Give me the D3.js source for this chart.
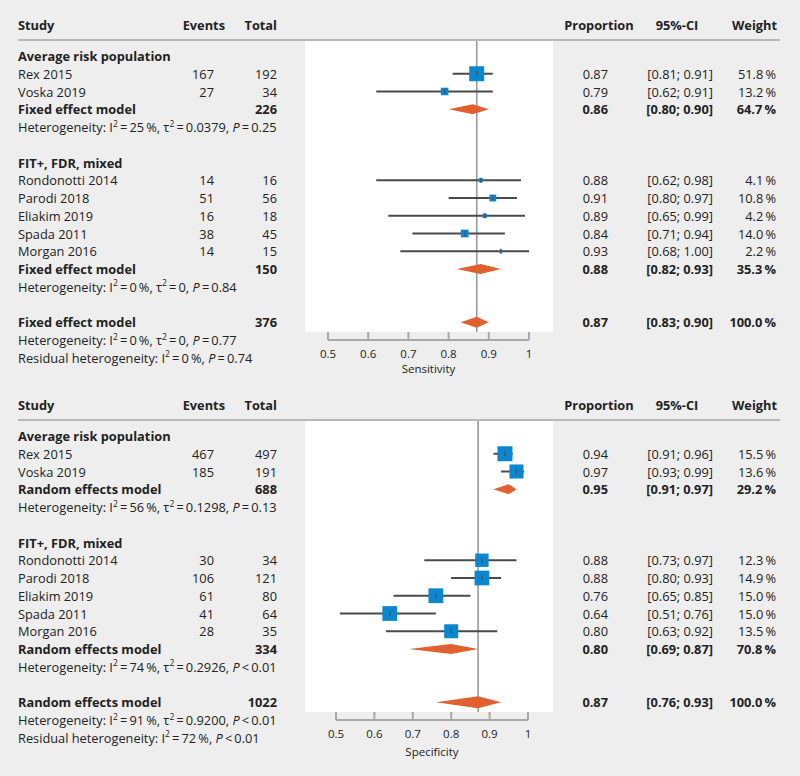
<!DOCTYPE html>
<html>
<head>
<meta charset="utf-8">
<script src="https://cdn.jsdelivr.net/npm/d3@7"></script>
<style>
  html, body { margin: 0; padding: 0; background: #eeeeee; }
  svg { display: block; }
  text { font-family: "Open Sans", "DejaVu Sans", sans-serif; fill: #222; }
</style>
</head>
<body>
<div id="chart"></div>
<script>
// ---------------- DATA ----------------
const groups = ["Average risk population", "FIT+, FDR, mixed"];
const studies = ["Rex 2015", "Voska 2019", "Rondonotti 2014", "Parodi 2018", "Eliakim 2019", "Spada 2011", "Morgan 2016"];
const studyGroup = [0, 0, 1, 1, 1, 1, 1];
const headers = ["Study", "Events", "Total", "Proportion", "95%-CI", "Weight"];
const ticks = [0.5, 0.6, 0.7, 0.8, 0.9, 1];

// Sensitivity panel
const sensEvents = [167, 27, 14, 51, 16, 38, 14];
const sensTotal = [192, 34, 16, 56, 18, 45, 15];
const sensProp = [0.87, 0.79, 0.88, 0.91, 0.89, 0.84, 0.93];
const sensLower = [0.81, 0.62, 0.62, 0.80, 0.65, 0.71, 0.68];
const sensUpper = [0.91, 0.91, 0.98, 0.97, 0.99, 0.94, 1.00];
const sensWeight = [51.8, 13.2, 4.1, 10.8, 4.2, 14.0, 2.2];
const sensSubTotal = [226, 150];
const sensSubProp = [0.86, 0.88];
const sensSubLower = [0.80, 0.82];
const sensSubUpper = [0.90, 0.93];
const sensSubWeight = [64.7, 35.3];
const sensSubI2 = ["25", "0"];
const sensSubTau2 = ["0.0379", "0"];
const sensSubP = [["=", "0.25"], ["=", "0.84"]];
const sensAll = { total: 376, prop: 0.87, lower: 0.83, upper: 0.90, weight: 100.0,
  i2: "0", tau2: "0", p: ["=", "0.77"], resI2: "0", resP: ["=", "0.74"] };

// Specificity panel
const specEvents = [467, 185, 30, 106, 61, 41, 28];
const specTotal = [497, 191, 34, 121, 80, 64, 35];
const specProp = [0.94, 0.97, 0.88, 0.88, 0.76, 0.64, 0.80];
const specLower = [0.91, 0.93, 0.73, 0.80, 0.65, 0.51, 0.63];
const specUpper = [0.96, 0.99, 0.97, 0.93, 0.85, 0.76, 0.92];
const specWeight = [15.5, 13.6, 12.3, 14.9, 15.0, 15.0, 13.5];
const specSubTotal = [688, 334];
const specSubProp = [0.95, 0.80];
const specSubLower = [0.91, 0.69];
const specSubUpper = [0.97, 0.87];
const specSubWeight = [29.2, 70.8];
const specSubI2 = ["56", "74"];
const specSubTau2 = ["0.1298", "0.2926"];
const specSubP = [["=", "0.13"], ["<", "0.01"]];
const specAll = { total: 1022, prop: 0.87, lower: 0.76, upper: 0.93, weight: 100.0,
  i2: "91", tau2: "0.9200", p: ["<", "0.01"], resI2: "72", resP: ["<", "0.01"] };

// ---------------- DRAW ----------------
const W = 800, H = 776;
const svg = d3.select("#chart").append("svg").attr("width", W).attr("height", H);
svg.append("rect").attr("width", W).attr("height", H).attr("fill", "#eeeeee");

const FS = 12.8, SUP = 8.5;
const colStudy = 18, colEvents = 214, colTotal = 277, colProp = 608, colCI = 713, colWeight = 777;
const pitch = 17.75;
const blue = "#0b86cf", orange = "#e0612f", ciCol = "#4a4a4a", axisCol = "#a8a8a8";

const fmt2 = d3.format(".2f");
const fmtW = w => d3.format(".1f")(w) + "\u2009%";
const fmtCI = (l, u) => "[" + fmt2(l) + "; " + fmt2(u) + "]";

function hetText(g, x, y, parts) {
  const t = g.append("text").attr("x", x).attr("y", y).attr("font-size", FS).attr("dominant-baseline", "central");
  t.append("tspan").text(parts.label + ": I");
  t.append("tspan").attr("dy", -4.5).attr("font-size", SUP).text("2");
  t.append("tspan").attr("dy", 4.5).text("\u2009=\u2009" + parts.i2 + "\u2009%, ");
  if (parts.tau2 !== undefined) {
    t.append("tspan").text("\u03c4");
    t.append("tspan").attr("dy", -4.5).attr("font-size", SUP).text("2");
    t.append("tspan").attr("dy", 4.5).text("\u2009=\u2009" + parts.tau2 + ", ");
  }
  t.append("tspan").attr("font-style", "italic").text("P");
  t.append("tspan").text((parts.p[0] === "=" ? "\u2009=\u2009" : "\u2009<\u2009") + parts.p[1]);
}

function drawPanel(cfg) {
  const g = svg.append("g").attr("transform", `translate(0,${cfg.offset})`);
  const rowY = i => 56 + i * pitch;
  const x = d3.scaleLinear().domain([0.5, 1]).range(cfg.xRange);
  const plotTop = 41, plotBottom = 332;

  g.append("rect").attr("x", 305).attr("y", plotTop).attr("width", 248).attr("height", plotBottom - plotTop).attr("fill", "#ffffff");

  // header
  const hy = 25;
  const hcol = [[colStudy, "start"], [225, "end"], [colTotal, "end"], [599, "middle"], [677, "middle"], [colWeight, "end"]];
  headers.forEach((h, i) => {
    g.append("text").attr("x", hcol[i][0]).attr("y", hy).attr("text-anchor", hcol[i][1])
      .attr("dominant-baseline", "central").attr("font-size", FS).attr("font-weight", "bold").text(h);
  });
  g.append("line").attr("x1", 18).attr("x2", 780).attr("y1", 40).attr("y2", 40).attr("stroke", "#b8b8b8").attr("stroke-width", 2);

  // build rows
  const rows = [];
  let r = 0;
  groups.forEach((grp, gi) => {
    rows.push({ type: "group", label: grp, row: r++ });
    studies.forEach((s, si) => {
      if (studyGroup[si] === gi) rows.push({ type: "study", idx: si, row: r++ });
    });
    rows.push({ type: "sub", gi, row: r++ });
    rows.push({ type: "subhet", gi, row: r++ });
    r++;
  });
  rows.push({ type: "all", row: r++ });
  rows.push({ type: "allhet", row: r++ });
  rows.push({ type: "reshet", row: r++ });

  // reference line
  g.append("line").attr("x1", x(cfg.all.prop)).attr("x2", x(cfg.all.prop))
    .attr("y1", plotTop).attr("y2", plotBottom).attr("stroke", "#9a9a9a").attr("stroke-width", 1.6);

  const maxW = d3.max(cfg.weight);
  const size = d3.scaleSqrt().domain([0, maxW]).range([0, 15]);

  const txt = (xx, yy, s, anchor, bold) => g.append("text").attr("x", xx).attr("y", yy)
    .attr("text-anchor", anchor || "start").attr("dominant-baseline", "central")
    .attr("font-size", FS).attr("font-weight", bold ? "bold" : "normal").text(s);

  const diamond = (yy, p, l, u, hh) => {
    const path = d3.path();
    path.moveTo(x(l), yy); path.lineTo(x(p), yy - hh); path.lineTo(x(u), yy); path.lineTo(x(p), yy + hh); path.closePath();
    g.append("path").attr("d", path.toString()).attr("fill", orange);
  };

  rows.forEach(d => {
    const yy = rowY(d.row);
    if (d.type === "group") {
      txt(colStudy, yy, d.label, "start", true);
    } else if (d.type === "study") {
      const i = d.idx;
      txt(colStudy, yy, studies[i]);
      txt(colEvents, yy, cfg.events[i], "end");
      txt(colTotal, yy, cfg.total[i], "end");
      txt(colProp, yy, fmt2(cfg.prop[i]), "end");
      txt(colCI, yy, fmtCI(cfg.lower[i], cfg.upper[i]), "end");
      txt(colWeight - 1, yy, fmtW(cfg.weight[i]), "end");
      g.append("line").attr("x1", x(cfg.lower[i])).attr("x2", x(cfg.upper[i])).attr("y1", yy).attr("y2", yy)
        .attr("stroke", ciCol).attr("stroke-width", 2);
      const s = size(cfg.weight[i]);
      g.append("rect").attr("x", x(cfg.prop[i]) - s / 2).attr("y", yy - s / 2).attr("width", s).attr("height", s)
        .attr("fill", blue);
      g.append("line").attr("x1", x(cfg.prop[i])).attr("x2", x(cfg.prop[i])).attr("y1", yy - 2.5).attr("y2", yy + 2.5)
        .attr("stroke", "#3d5a70").attr("stroke-width", 1.5);
    } else if (d.type === "sub") {
      const gi = d.gi;
      txt(colStudy, yy, cfg.modelLabel, "start", true);
      txt(colTotal, yy, cfg.subTotal[gi], "end", true);
      txt(colProp, yy, fmt2(cfg.subProp[gi]), "end", true);
      txt(colCI, yy, fmtCI(cfg.subLower[gi], cfg.subUpper[gi]), "end", true);
      txt(colWeight - 1, yy, fmtW(cfg.subWeight[gi]), "end", true);
      diamond(yy, cfg.subProp[gi], cfg.subLower[gi], cfg.subUpper[gi], 5);
    } else if (d.type === "subhet") {
      hetText(g, colStudy, yy, { label: "Heterogeneity", i2: cfg.subI2[d.gi], tau2: cfg.subTau2[d.gi], p: cfg.subP[d.gi] });
    } else if (d.type === "all") {
      txt(colStudy, yy, cfg.modelLabel, "start", true);
      txt(colTotal, yy, cfg.all.total, "end", true);
      txt(colProp, yy, fmt2(cfg.all.prop), "end", true);
      txt(colCI, yy, fmtCI(cfg.all.lower, cfg.all.upper), "end", true);
      txt(colWeight - 1, yy, fmtW(cfg.all.weight), "end", true);
      diamond(yy, cfg.all.prop, cfg.all.lower, cfg.all.upper, cfg.allHalf);
    } else if (d.type === "allhet") {
      hetText(g, colStudy, yy, { label: "Heterogeneity", i2: cfg.all.i2, tau2: cfg.all.tau2, p: cfg.all.p });
    } else if (d.type === "reshet") {
      hetText(g, colStudy, yy, { label: "Residual heterogeneity", i2: cfg.all.resI2, p: cfg.all.resP });
    }
  });

  // axis
  const ax = g.append("g");
  ax.append("line").attr("x1", x(0.5)).attr("x2", x(1)).attr("y1", 340).attr("y2", 340)
    .attr("stroke", axisCol).attr("stroke-width", 2);
  ticks.forEach(t => {
    ax.append("line").attr("x1", x(t)).attr("x2", x(t)).attr("y1", 332).attr("y2", 340)
      .attr("stroke", axisCol).attr("stroke-width", 2);
    ax.append("text").attr("x", x(t)).attr("y", 353).attr("text-anchor", "middle").attr("dominant-baseline", "central")
      .attr("font-size", 11.5).text(String(t));
  });
  ax.append("text").attr("x", (x(0.5) + x(1)) / 2).attr("y", cfg.titleY).attr("text-anchor", "middle")
    .attr("dominant-baseline", "central").attr("font-size", 11.5).text(cfg.title);
}

drawPanel({
  offset: 0, xRange: [328, 529], title: "Sensitivity", titleY: 368.5, modelLabel: "Fixed effect model", allHalf: 5.5,
  events: sensEvents, total: sensTotal, prop: sensProp, lower: sensLower, upper: sensUpper, weight: sensWeight,
  subTotal: sensSubTotal, subProp: sensSubProp, subLower: sensSubLower, subUpper: sensSubUpper, subWeight: sensSubWeight,
  subI2: sensSubI2, subTau2: sensSubTau2, subP: sensSubP, all: sensAll
});
drawPanel({
  offset: 380, xRange: [336, 528], title: "Specificity", titleY: 371, modelLabel: "Random effects model", allHalf: 6,
  events: specEvents, total: specTotal, prop: specProp, lower: specLower, upper: specUpper, weight: specWeight,
  subTotal: specSubTotal, subProp: specSubProp, subLower: specSubLower, subUpper: specSubUpper, subWeight: specSubWeight,
  subI2: specSubI2, subTau2: specSubTau2, subP: specSubP, all: specAll
});
</script>
</body>
</html>
